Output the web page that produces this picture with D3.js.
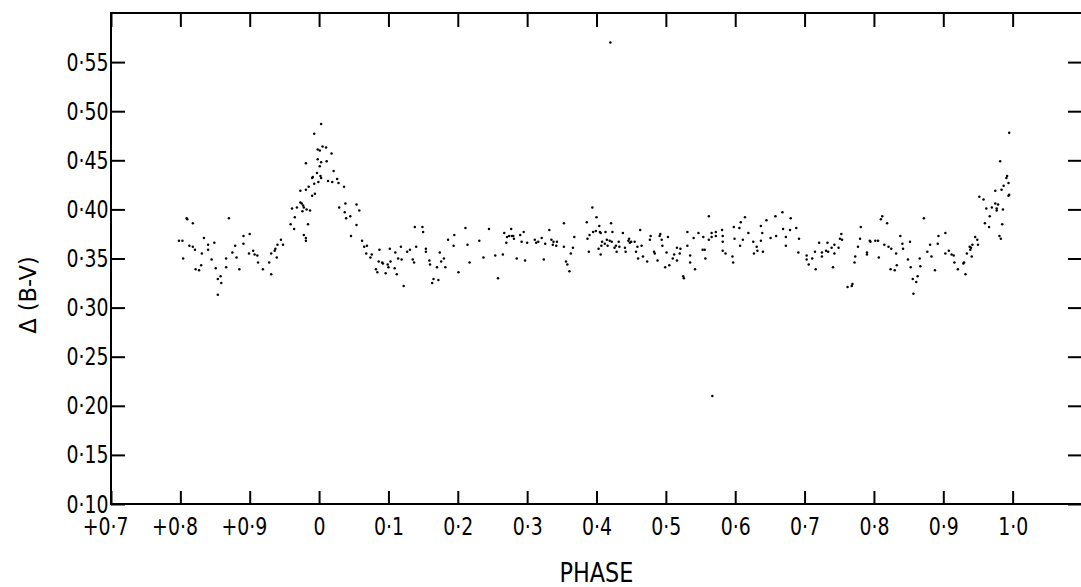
<!DOCTYPE html>
<html>
<head>
<meta charset="utf-8">
<script src="https://cdn.jsdelivr.net/npm/d3@7"></script>
<style>
  html, body { margin: 0; padding: 0; background: #fff; }
  svg { display: block; }
</style>
</head>
<body>
<script>
// axis ticks
const xTicks = [-0.3, -0.2, -0.1, 0, 0.1, 0.2, 0.3, 0.4, 0.5, 0.6, 0.7, 0.8, 0.9, 1.0];
const xTickLabels = ["+0·7", "+0·8", "+0·9", "0", "0·1", "0·2", "0·3", "0·4", "0·5", "0·6", "0·7", "0·8", "0·9", "1·0"];
const yTicks = [0.10, 0.15, 0.20, 0.25, 0.30, 0.35, 0.40, 0.45, 0.50, 0.55];
const yTickLabels = ["0·10", "0·15", "0·20", "0·25", "0·30", "0·35", "0·40", "0·45", "0·50", "0·55"];

// [phase, delta(B-V)]
const preMinimum = [
  [-0.202,0.368],[-0.197,0.368],[-0.191,0.391],[-0.190,0.390],[-0.182,0.386],[-0.196,0.350],[-0.187,0.363],
  [-0.182,0.362],[-0.179,0.359],[-0.178,0.339],[-0.173,0.338],[-0.170,0.343],[-0.166,0.371],[-0.169,0.355],
  [-0.160,0.364],[-0.160,0.359],[-0.155,0.349],[-0.151,0.366],[-0.149,0.340],[-0.146,0.329],[-0.142,0.332],
  [-0.141,0.325],[-0.146,0.313],[-0.134,0.350],[-0.134,0.341],[-0.130,0.391],[-0.125,0.356],[-0.121,0.363],
  [-0.119,0.351],[-0.115,0.339],[-0.109,0.373],[-0.109,0.365],[-0.100,0.375],[-0.101,0.355],[-0.095,0.358],
  [-0.093,0.354],[-0.089,0.353],[-0.088,0.346],[-0.081,0.339],[-0.072,0.346],[-0.069,0.355],[-0.069,0.334],
  [-0.064,0.358],[-0.063,0.360],[-0.061,0.351],[-0.060,0.364],[-0.055,0.369],[-0.052,0.364]
];

const primaryPeak = [
  [-0.041,0.385],[-0.039,0.401],[-0.036,0.380],[-0.035,0.392],[-0.032,0.402],[-0.027,0.407],[-0.025,0.406],
  [-0.023,0.404],[-0.024,0.398],[-0.022,0.402],[-0.027,0.419],[-0.019,0.420],[-0.015,0.423],[-0.018,0.400],
  [-0.013,0.399],[-0.016,0.385],[-0.022,0.374],[-0.019,0.371],[-0.019,0.368],[-0.019,0.447],[-0.010,0.414],
  [-0.006,0.416],[-0.010,0.432],[-0.009,0.433],[-0.007,0.426],[-0.003,0.437],[-0.001,0.428],[0.002,0.434],
  [0.003,0.432],[-0.007,0.477],[0.003,0.487],[-0.002,0.461],[0.001,0.460],[0.005,0.464],[0.010,0.463],
  [0.018,0.457],[-0.002,0.451],[0.003,0.448],[0.001,0.444],[0.011,0.449],[0.021,0.439],[0.013,0.429],
  [0.019,0.428],[0.026,0.431],[0.028,0.427],[0.036,0.423],[0.029,0.402],[0.038,0.406],[0.037,0.397],
  [0.039,0.391],[0.045,0.393],[0.054,0.405],[0.058,0.399],[0.054,0.384],[0.046,0.373]
];

const postMinimum = [
  [0.062,0.368],[0.065,0.362],[0.069,0.363],[0.068,0.355],[0.074,0.351],[0.076,0.354],[0.087,0.359],
  [0.086,0.347],[0.082,0.339],[0.084,0.336],[0.091,0.346],[0.092,0.345],[0.096,0.335],[0.099,0.344],
  [0.100,0.341],[0.103,0.347],[0.102,0.360],[0.110,0.356],[0.109,0.340],[0.112,0.334],[0.114,0.350],
  [0.118,0.362],[0.119,0.349],[0.122,0.322],[0.127,0.357],[0.131,0.359],[0.135,0.349],[0.137,0.346],
  [0.140,0.362],[0.138,0.382],[0.149,0.382],[0.150,0.377],[0.154,0.360],[0.154,0.357],[0.159,0.348],
  [0.160,0.344],[0.163,0.325],[0.165,0.329],[0.172,0.328],[0.170,0.341],[0.174,0.356],[0.176,0.347],
  [0.180,0.350],[0.182,0.341],[0.186,0.369],
  [0.194,0.363],[0.195,0.374],[0.201,0.336],[0.211,0.381],[0.214,0.364],[0.217,0.346],[0.231,0.368],
  [0.237,0.351],[0.245,0.380],[0.254,0.353],[0.258,0.330],[0.265,0.354],[0.267,0.376],[0.270,0.366],
  [0.271,0.372],[0.274,0.373],[0.277,0.380],[0.278,0.373],[0.280,0.373],[0.281,0.370],[0.285,0.350],
  [0.290,0.374],[0.292,0.367],[0.295,0.377],[0.297,0.348],[0.300,0.366],[0.311,0.369],[0.313,0.366],
  [0.316,0.367],[0.321,0.371],[0.324,0.349],[0.326,0.365],[0.332,0.379],[0.335,0.369],[0.337,0.364],
  [0.338,0.367],[0.342,0.363],[0.343,0.367],[0.353,0.386],[0.353,0.362],[0.356,0.347],[0.358,0.344],
  [0.361,0.337],[0.363,0.355],[0.366,0.361],[0.368,0.372]
];

const midPhase = [
  [0.386,0.387],[0.387,0.370],[0.389,0.357],[0.390,0.374],[0.394,0.402],[0.395,0.377],[0.399,0.378],
  [0.400,0.392],[0.403,0.360],[0.404,0.383],[0.405,0.377],[0.406,0.376],[0.406,0.354],[0.407,0.363],
  [0.408,0.367],[0.412,0.365],[0.413,0.377],[0.415,0.369],[0.416,0.363],[0.419,0.368],[0.421,0.386],
  [0.422,0.367],[0.423,0.377],[0.426,0.361],[0.428,0.363],[0.429,0.357],[0.432,0.367],[0.433,0.362],
  [0.438,0.376],[0.441,0.361],[0.442,0.357],[0.446,0.368],[0.447,0.370],[0.448,0.366],[0.450,0.367],
  [0.455,0.367],[0.457,0.357],[0.459,0.362],[0.460,0.350],[0.463,0.379],[0.465,0.363],[0.467,0.352],
  [0.473,0.347],[0.477,0.369],[0.478,0.373],[0.483,0.357],[0.484,0.355],[0.488,0.348],[0.491,0.373],
  [0.492,0.375],[0.494,0.369],[0.495,0.363],[0.499,0.341],[0.501,0.356],[0.503,0.372],[0.505,0.343],
  [0.510,0.350],[0.512,0.354],[0.516,0.348],[0.516,0.361],[0.520,0.355],[0.521,0.360],[0.525,0.332],
  [0.526,0.330],[0.531,0.363],[0.531,0.377],[0.535,0.353],[0.535,0.346],[0.540,0.371],[0.542,0.339],
  [0.547,0.376],[0.553,0.359],[0.554,0.372],[0.556,0.359],[0.557,0.350],[0.562,0.393],[0.562,0.369],
  [0.566,0.376],[0.566,0.372],[0.572,0.377],[0.572,0.373],[0.581,0.379],[0.582,0.373],[0.582,0.367],
  [0.582,0.358],[0.586,0.355],[0.596,0.352],[0.597,0.346],[0.598,0.382],[0.599,0.370],[0.606,0.381],
  [0.607,0.363],[0.608,0.387],[0.611,0.369],[0.614,0.392],[0.619,0.376]
];

const latePhase = [
  [0.626,0.367],[0.627,0.355],[0.631,0.362],[0.632,0.358],[0.637,0.383],[0.637,0.368],[0.639,0.376],
  [0.640,0.357],[0.645,0.389],[0.651,0.371],[0.658,0.393],[0.659,0.373],[0.668,0.397],[0.669,0.380],
  [0.673,0.372],[0.673,0.363],[0.679,0.379],[0.680,0.391],[0.688,0.381],[0.691,0.356],[0.692,0.370],
  [0.703,0.353],[0.703,0.349],[0.706,0.344],[0.711,0.350],[0.715,0.357],[0.716,0.339],[0.721,0.366],
  [0.725,0.352],[0.725,0.356],[0.731,0.358],[0.733,0.366],[0.734,0.357],[0.739,0.361],[0.741,0.341],
  [0.743,0.364],[0.743,0.355],[0.749,0.361],[0.751,0.370],[0.753,0.375],[0.754,0.369],[0.762,0.321],
  [0.768,0.322],[0.769,0.324],[0.773,0.352],[0.772,0.346],[0.777,0.362],[0.780,0.370],[0.781,0.382],
  [0.790,0.356],[0.790,0.354],[0.794,0.368],[0.795,0.367],[0.802,0.368],[0.806,0.368],[0.807,0.351],
  [0.810,0.390],[0.812,0.393],[0.815,0.364],[0.819,0.386],[0.821,0.362],[0.824,0.339],[0.825,0.360],
  [0.830,0.338],[0.832,0.355],[0.833,0.343],[0.838,0.373],[0.841,0.365],[0.842,0.360],[0.849,0.349],
  [0.852,0.367],[0.853,0.341],[0.856,0.329],[0.857,0.314],[0.861,0.326],[0.863,0.332],[0.866,0.350],
  [0.867,0.342],[0.872,0.391],[0.877,0.357],[0.881,0.364],[0.883,0.352],[0.888,0.338],[0.892,0.365],
  [0.893,0.373],[0.903,0.376],[0.903,0.355],[0.908,0.358],[0.912,0.354],[0.915,0.353],[0.916,0.346],
  [0.921,0.339],[0.929,0.345],[0.930,0.346],[0.932,0.334],[0.934,0.355],[0.938,0.362],[0.939,0.359],
  [0.940,0.361],[0.941,0.352],[0.942,0.364],[0.946,0.372],[0.949,0.369],[0.950,0.364]
];

const nextMinimum = [
  [0.952,0.413],[0.958,0.410],[0.960,0.386],[0.962,0.401],[0.966,0.382],[0.967,0.393],[0.970,0.402],
  [0.975,0.419],[0.975,0.406],[0.977,0.401],[0.977,0.399],[0.979,0.405],[0.981,0.373],[0.983,0.370],
  [0.985,0.385],[0.986,0.400],[0.982,0.449],[0.984,0.420],[0.987,0.424],[0.991,0.432],[0.992,0.434],
  [0.994,0.427],[0.994,0.414],[0.995,0.415],[0.995,0.478]
];

const strays = [[0.420,0.570],[0.567,0.210]];

const W = 1081, H = 587;
const mLeft = 111, mRight = 1082, mTop = 13, mBottom = 504;
const font = "'Liberation Sans Narrow', 'DejaVu Sans Condensed', 'DejaVu Sans', sans-serif";
const squeeze = "scale(0.84,1)";   // narrow the lettering like the original stencil type

const svg = d3.select("body").append("svg")
    .attr("width", W)
    .attr("height", H)
    .style("font-family", font);

const x = d3.scaleLinear().domain([-0.3, 1.1]).range([mLeft, mRight]);
const y = d3.scaleLinear().domain([0.10, 0.60]).range([mBottom, mTop]);

function styleAxis(g, size) {
  g.select(".domain").remove();
  g.selectAll(".tick line").attr("stroke", "#000").attr("stroke-width", 2);
  g.selectAll("text")
    .attr("fill", "#000")
    .attr("transform", squeeze)
    .style("font-family", font)
    .style("font-size", size + "px");
}

// bottom
svg.append("g")
    .attr("transform", `translate(0,${mBottom})`)
    .call(d3.axisBottom(x).tickValues(xTicks)
      .tickFormat((d, i) => xTickLabels[i])
      .tickSizeInner(-13).tickSizeOuter(0).tickPadding(13))
    .call(g => styleAxis(g, 25))
    .call(g => g.selectAll("text").attr("dx", (d, i) => xTickLabels[i].startsWith("+") ? -7 : 0));

// top
svg.append("g")
    .attr("transform", `translate(0,${mTop})`)
    .call(d3.axisTop(x).tickValues(xTicks).tickFormat("")
      .tickSizeInner(-14).tickSizeOuter(0))
    .call(g => styleAxis(g, 25));

// left
svg.append("g")
    .attr("transform", `translate(${mLeft},0)`)
    .call(d3.axisLeft(y).tickValues(yTicks)
      .tickFormat((d, i) => yTickLabels[i])
      .tickSizeInner(-14).tickSizeOuter(0).tickPadding(3))
    .call(g => styleAxis(g, 25));

// right
svg.append("g")
    .attr("transform", `translate(${mRight},0)`)
    .call(d3.axisRight(y).tickValues(yTicks).tickFormat("")
      .tickSizeInner(-14).tickSizeOuter(0))
    .call(g => styleAxis(g, 25));

// frame
svg.append("rect")
    .attr("x", mLeft).attr("y", mTop)
    .attr("width", mRight - mLeft).attr("height", mBottom - mTop)
    .attr("fill", "none")
    .attr("stroke", "#000")
    .attr("stroke-width", 2);

const points = [].concat(preMinimum, primaryPeak, postMinimum, midPhase, latePhase, nextMinimum, strays);

svg.append("g")
    .attr("fill", "#000")
  .selectAll("circle")
  .data(points)
  .join("circle")
    .attr("cx", d => x(d[0]))
    .attr("cy", d => y(d[1]))
    .attr("r", 1.25);

svg.append("text")
    .attr("transform", `translate(${(mLeft + mRight) / 2},582) scale(0.92,1)`)
    .attr("text-anchor", "middle")
    .style("font-size", "27px")
    .text("PHASE");

svg.append("text")
    .attr("transform", "translate(36,295) rotate(-90) scale(1,0.9)")
    .attr("text-anchor", "middle")
    .style("font-size", "25px")
    .text("Δ (B-V)");
</script>
</body>
</html>
